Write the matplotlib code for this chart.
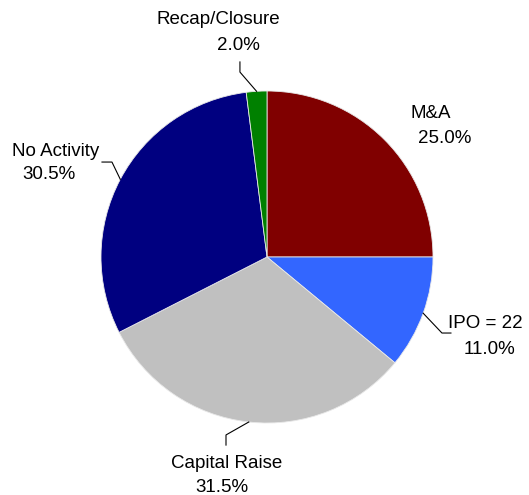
import numpy as np
import matplotlib
matplotlib.use("Agg")
import matplotlib.pyplot as plt

plt.rcParams["font.family"] = ["Liberation Sans", "DejaVu Sans"]

# Data (clockwise from 12 o'clock)
categories = ["M&A", "IPO = 22", "Capital Raise", "No Activity", "Recap/Closure"]
shares = [25.0, 11.0, 31.5, 30.5, 2.0]
colors = ["#800000", "#3366FF", "#C0C0C0", "#000080", "#008000"]

# Label layout: (name x, name y, pct x, pct y) in axes data units, plus leader bend/end
label_pos = {
    "M&A": (0.988, 0.867, 1.072, 0.711),
    "IPO = 22": (1.313, -0.398, 1.343, -0.560),
    "Capital Raise": (-0.241, -1.241, -0.271, -1.386),
    "No Activity": (-1.271, 0.633, -1.313, 0.500),
    "Recap/Closure": (-0.295, 1.428, -0.175, 1.277),
}
leaders = {
    "IPO = 22": [(1.054, -0.458), (1.108, -0.458)],
    "Capital Raise": [(-0.247, -1.072), (-0.247, -1.133)],
    "No Activity": [(-0.934, 0.572), (-0.994, 0.572)],
    "Recap/Closure": [(-0.163, 1.114), (-0.163, 1.175)],
}

W, H = 529, 495
fig = plt.figure(figsize=(W / 100, H / 100), dpi=100)
cx, cy, R = 267, 257, 166
ax = fig.add_axes([(cx - R) / W, (H - cy - R) / H, 2 * R / W, 2 * R / H])

wedges, _ = ax.pie(shares, colors=colors, startangle=90, counterclock=False,
                   radius=1.0, wedgeprops=dict(edgecolor="#e8e8e8", linewidth=0.6))
ax.set_xlim(-1, 1)
ax.set_ylim(-1, 1)
ax.set_aspect("equal")
ax.axis("off")

for w, name, val in zip(wedges, categories, shares):
    mid = np.deg2rad((w.theta1 + w.theta2) / 2)
    if name in leaders:
        pts = [(np.cos(mid), np.sin(mid))] + leaders[name]
        xs, ys = zip(*pts)
        ax.plot(xs, ys, color="black", lw=0.8, clip_on=False)
    nx, ny, px, py = label_pos[name]
    ax.text(nx, ny, name, ha="center", va="center", fontsize=13.5, clip_on=False)
    ax.text(px, py, f"{val:.1f}%", ha="center", va="center", fontsize=13.5, clip_on=False)

fig.savefig("out.png", dpi=100)
